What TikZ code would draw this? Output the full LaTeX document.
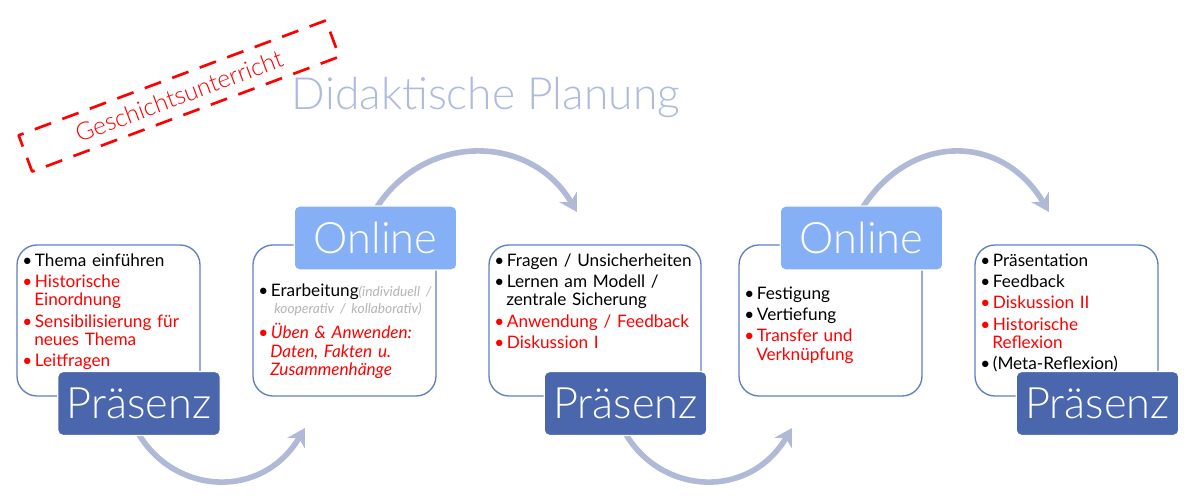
\documentclass[tikz,border=0pt]{standalone}
\usepackage{fontspec}
\setmainfont{Lato}
\newfontfamily\thinfont{Lato Light}
\usetikzlibrary{arrows.meta}
\definecolor{presblue}{HTML}{4A66AC}
\definecolor{onlblue}{HTML}{85B0F6}
\definecolor{framblue}{HTML}{5F7FC0}
\definecolor{arcblue}{HTML}{B0B9D6}
\definecolor{titleblue}{HTML}{AEBBDD}
\definecolor{noteblue}{HTML}{B5B5B5}
\definecolor{tagred}{HTML}{FF0000}
\newcommand{\bk}[1]{\item[\textcolor{black}{\textbullet}]#1}
\newcommand{\rd}[1]{\item[\textcolor{tagred}{\textbullet}]\textcolor{tagred}{#1}}
\newenvironment{punkte}{\begin{list}{}{\setlength{\leftmargin}{9pt}\setlength{\labelwidth}{7pt}\setlength{\labelsep}{2pt}\setlength{\itemsep}{2.2pt}\setlength{\parsep}{0pt}\setlength{\topsep}{0pt}\setlength{\partopsep}{0pt}}\raggedright}{\end{list}}
\tikzset{
	rahmen/.style={draw=framblue, line width=1pt, rounded corners=15pt, fill=white, minimum width=137.25pt, minimum height=113.25pt, inner sep=0pt},
	kopf/.style={draw=white, line width=1pt, rounded corners=4pt, minimum width=122pt, minimum height=48pt, inner sep=0pt, text=white, font=\thinfont\fontsize{32.5}{36}\selectfont},
	praesenz/.style={kopf, fill=presblue},
	online/.style={kopf, fill=onlblue},
	inhalt/.style={anchor=north west, inner sep=0pt, text width=135pt, font=\fontsize{12.9}{13.8}\selectfont},
	bogen/.style={draw=arcblue, line width=4.2pt, -{Stealth[length=13pt,width=15pt,inset=4pt]}},
}
\begin{document}
\begin{tikzpicture}[x=0.75pt, y=-0.75pt, line join=round, line cap=butt]
	\useasboundingbox (0,0) rectangle (1200,498);

	\path
	(305,428) coordinate (ziela)
	(577,212) coordinate (zielb)
	(792,428) coordinate (zielc)
	(1049,212) coordinate (zield)
	;

	\node[titleblue, font=\thinfont\fontsize{33.3}{36}\selectfont] (titel) at (486,97) {Didaktische Planung};

	\node[draw=tagred, line width=2pt, dash pattern=on 13pt off 9pt, rotate=20.5, minimum width=246pt, minimum height=29pt, inner sep=0pt, text=tagred, font=\thinfont\fontsize{18.4}{20}\selectfont] (tag) at (179,96) {Geschichtsunterricht};

	% Rahmen
	\foreach \n/\x/\w in {boxa/108.5/137.25,boxb/344.5/137.25,boxc/595/159,boxd/830.5/137.25,boxe/1066.5/137.25}
	\node[rahmen, minimum width=\w pt] (\n) at (\x,320.5) {};

	\node[inhalt, text width=132pt] (texta) at (22,247.5) {\begin{punkte}
		\bk{Thema einführen}
		\rd{Historische\\Einordnung}
		\rd{Sensibilisierung für\\neues Thema}
		\rd{Leitfragen}
	\end{punkte}};

	\node[inhalt] (textb) at (258,280.5) {\begin{punkte}
		\bk{Erarbeitung\textcolor{noteblue}{\fontsize{10.3}{11.5}\selectfont\itshape(individuell /\\[-1pt]\hspace*{3pt}kooperativ / kollaborativ)}}
		\vspace{3.2pt}
		\rd{\itshape Üben \& Anwenden:\\Daten, Fakten u.\\Zusammenhänge}
	\end{punkte}};

	\node[inhalt, text width=155pt] (textc) at (494,247.5) {\begin{punkte}
		\bk{Fragen / Unsicherheiten}
		\bk{Lernen am Modell /\\zentrale Sicherung}
		\rd{Anwendung / Feedback}
		\rd{Diskussion I}
	\end{punkte}};

	\node[inhalt] (textd) at (744,280.5) {\begin{punkte}
		\bk{Festigung}
		\bk{Vertiefung}
		\rd{Transfer und\\Verknüpfung}
	\end{punkte}};

	\node[inhalt] (texte) at (980,247.5) {\begin{punkte}
		\bk{Präsentation}
		\bk{Feedback}
		\rd{Diskussion II}
		\rd{Historische\\Reflexion}
		\bk{(Meta-Reflexion)}
	\end{punkte}};

	% Pfeile
	\draw[bogen] (138.7,434) .. controls (175,495) and (262,500) .. (ziela);
	\draw[bogen] (625.7,434) .. controls (662,495) and (749,500) .. (zielc);
	\draw[bogen] (377,207) .. controls (425,133) and (530,133) .. (zielb);
	\draw[bogen] (863,207) .. controls (911,133) and (1002,133) .. (zield);

	% Köpfe
	\foreach \n/\x/\y/\s/\t in {kopfa/139/403.5/praesenz/Präsenz,kopfb/375.5/238/online/Online,kopfc/625.5/403.5/praesenz/Präsenz,kopfd/861.5/238/online/Online,kopfe/1097.5/403.5/praesenz/Präsenz}
	\node[\s] (\n) at (\x,\y) {\t};
\end{tikzpicture}
\end{document}
